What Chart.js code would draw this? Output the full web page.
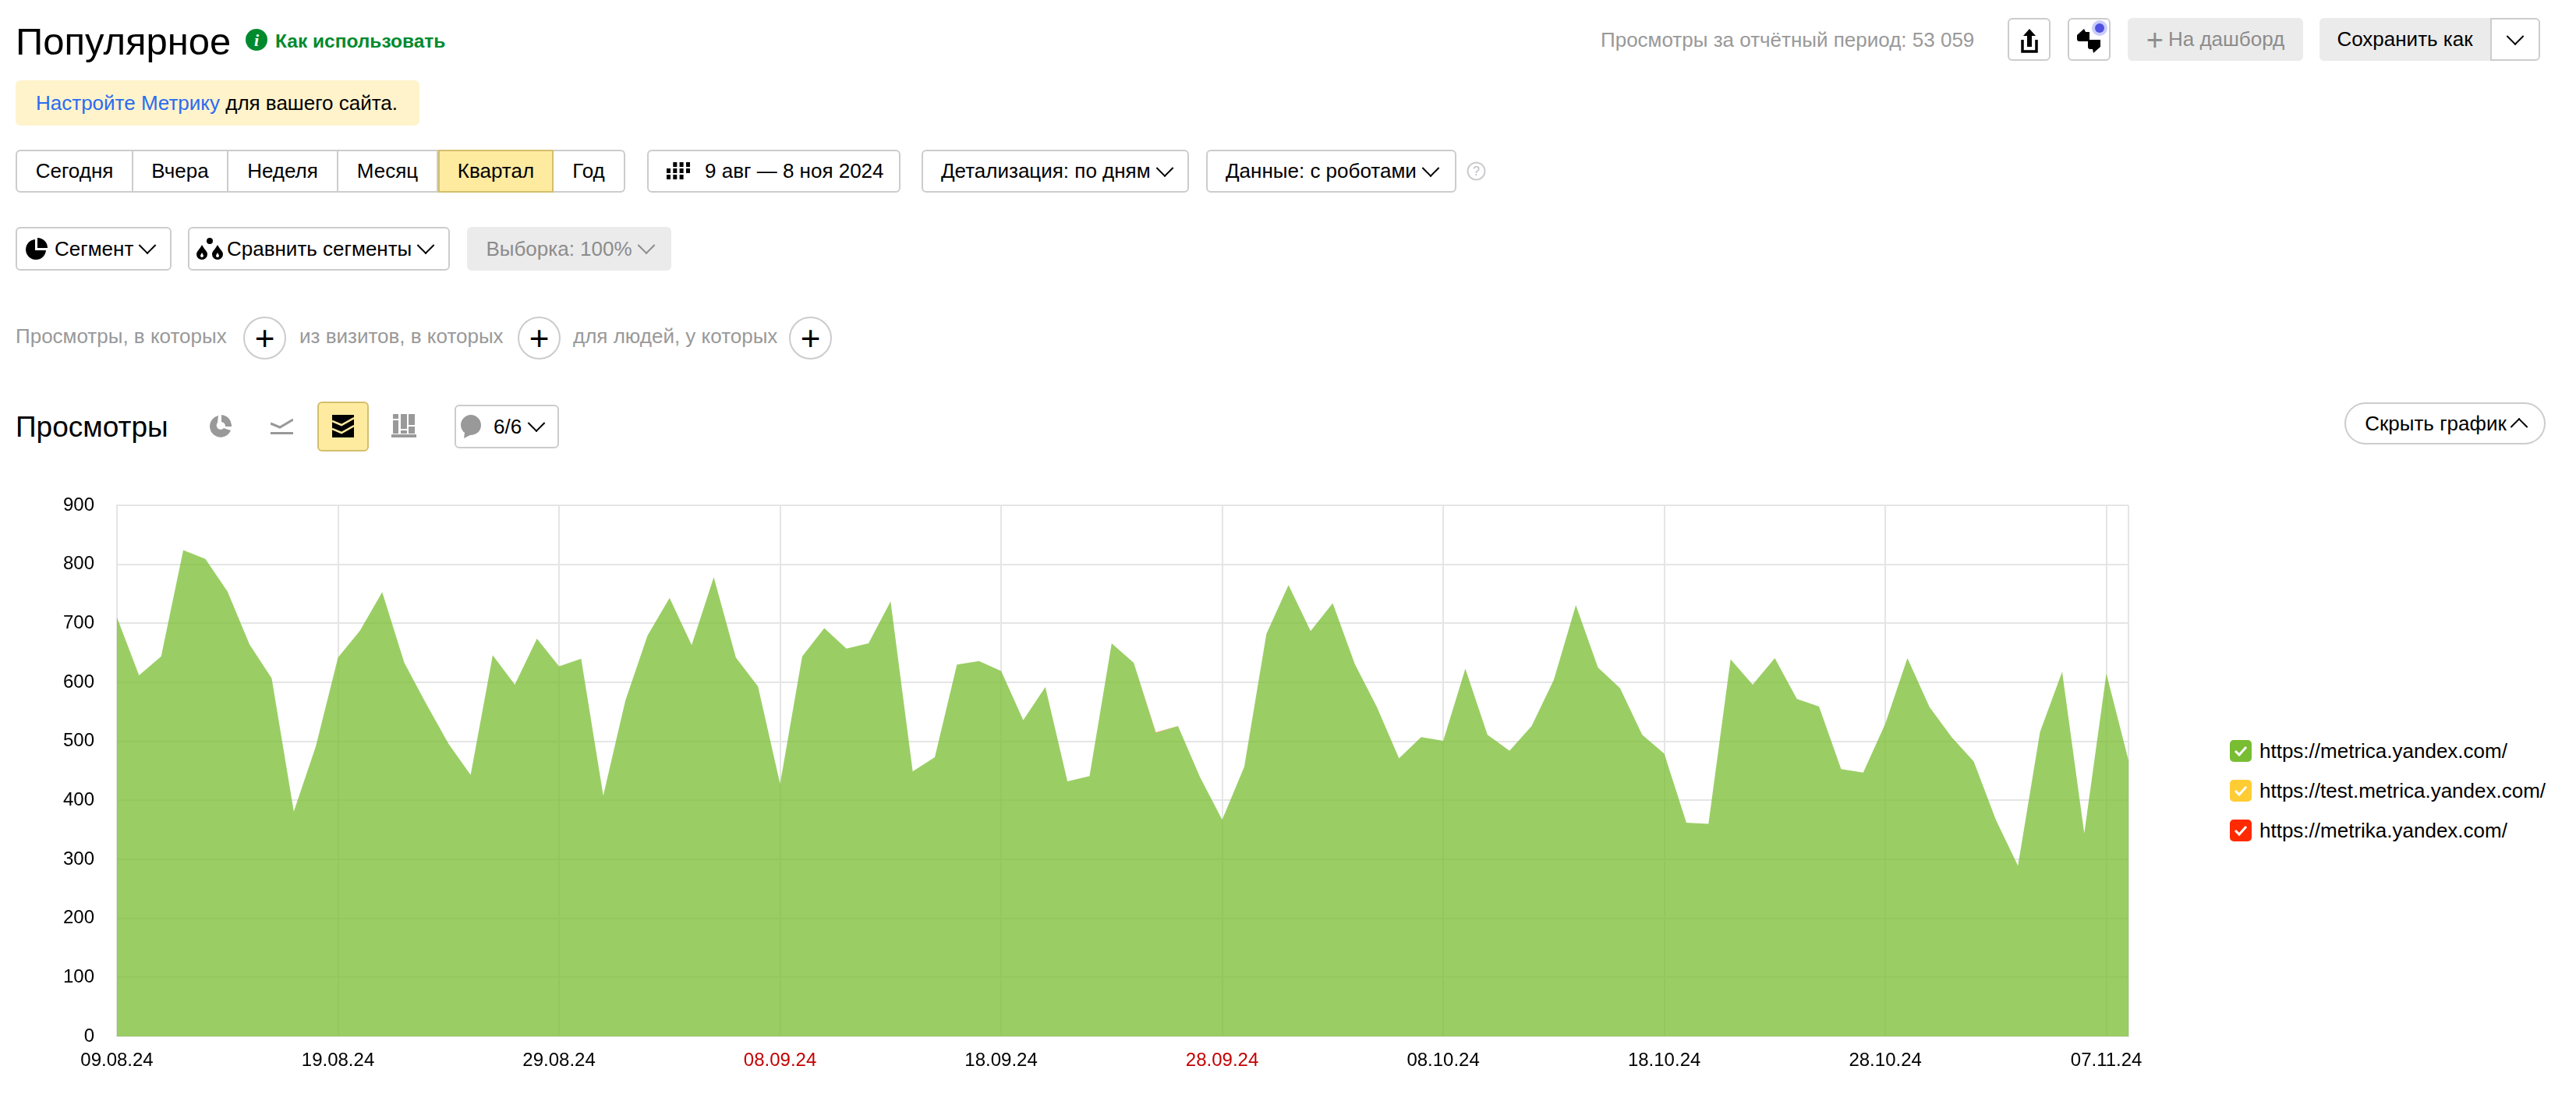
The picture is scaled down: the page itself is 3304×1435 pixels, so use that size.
<!DOCTYPE html>
<html lang="ru">
<head>
<meta charset="utf-8">
<title>Популярное</title>
<script src="https://cdn.jsdelivr.net/npm/chart.js@4"></script>
<style>
  html, body { margin: 0; padding: 0; background: #fff; }
  body { position: relative; width: 3304px; height: 1435px; overflow: hidden; font-family: "Liberation Sans", Arial, sans-serif; font-size: 26px; color: #000; }
  .t, .btn, .grey, svg.i { position: absolute; }
  .t { white-space: nowrap; line-height: 30px; }
  .btn, .grey { box-sizing: border-box; display: flex; align-items: center; justify-content: center; white-space: nowrap; border-radius: 6px; }
  .btn { border: 2px solid #ccc; background: #fff; }
  .grey { background: #ebebeb; color: #8c8c8c; }
  .seg { border-radius: 0; border-left-width: 0; }
  .on { background: #ffeba0; border-color: #d3bf6c; }
  .muted { color: #999; }
  .plus { border-radius: 50%; }
  .start { justify-content: flex-start; }
  .chev { width: 16px; height: 16px; border-right: 2px solid #000; border-bottom: 2px solid #000; transform: rotate(45deg) translate(-3px, -3px); margin-left: 12px; flex: none; box-sizing: border-box; }
  #chartBox { position: absolute; left: 0; top: 620px; }
  #legend { position: absolute; left: 2860px; top: 949px; }
  .lg { display: flex; align-items: center; height: 28px; margin-bottom: 23px; }
  .box { width: 28px; height: 28px; border-radius: 5px; margin-right: 10px; display: flex; align-items: center; justify-content: center; }
</style>
</head>
<body>

<div class="t" style="left:20px;top:24px;font-size:49px;line-height:58px">Популярное</div>
<svg class="i" style="left:315px;top:37px" width="28" height="28" viewBox="0 0 28 28"><circle cx="14" cy="14" r="14" fill="#008a2e"/><text x="14" y="22" text-anchor="middle" font-family="Liberation Serif" font-style="italic" font-weight="bold" font-size="22" fill="#fff">i</text></svg>
<div class="t" style="left:353px;top:38px;color:#008a2e;font-weight:bold;font-size:24.5px">Как использовать</div>

<div class="t" style="left:20px;top:103px;width:518px;height:58px;background:#fff3cc;border-radius:6px"></div>
<div class="t" style="left:46px;top:117px"><span style="color:#2a6bf2">Настройте Метрику</span> для вашего сайта.</div>

<div class="btn seg" style="left:20px;top:192px;width:151px;height:55px;border-left-width:2px;border-radius:6px 0 0 6px">Сегодня</div>
<div class="btn seg" style="left:171px;top:192px;width:122px;height:55px">Вчера</div>
<div class="btn seg" style="left:293px;top:192px;width:141px;height:55px">Неделя</div>
<div class="btn seg" style="left:434px;top:192px;width:128px;height:55px">Месяц</div>
<div class="btn seg on" style="left:562px;top:192px;width:148px;height:55px;border-left-width:2px">Квартал</div>
<div class="btn seg" style="left:710px;top:192px;width:92px;height:55px;border-radius:0 6px 6px 0">Год</div>

<div class="btn start" style="left:830px;top:192px;width:325px;height:55px;padding-left:72px">9 авг — 8 ноя 2024</div>
<svg class="i" style="left:855px;top:208px" width="30" height="22" viewBox="0 0 30 22" fill="#000"><rect x="8.3" y="0" width="5" height="6"/><rect x="16.6" y="0" width="5" height="6"/><rect x="25" y="0" width="5" height="6"/><rect x="0" y="8" width="5" height="6"/><rect x="8.3" y="8" width="5" height="6"/><rect x="16.6" y="8" width="5" height="6"/><rect x="25" y="8" width="5" height="6"/><rect x="0" y="16" width="5" height="6"/><rect x="8.3" y="16" width="5" height="6"/><rect x="16.6" y="16" width="5" height="6"/></svg>
<div class="btn start" style="left:1182px;top:192px;width:343px;height:55px;padding-left:23px">Детализация: по дням<span class="chev" style="margin-left:10px"></span></div>
<div class="btn start" style="left:1547px;top:192px;width:321px;height:55px;padding-left:23px">Данные: с роботами<span class="chev" style="margin-left:10px"></span></div>
<svg class="i" style="left:1881px;top:207px" width="25" height="25" viewBox="0 0 25 25"><circle cx="12.5" cy="12.5" r="11" fill="none" stroke="#ccc" stroke-width="2"/><text x="12.5" y="18" text-anchor="middle" font-size="16" fill="#bbb">?</text></svg>

<div class="btn start" style="left:20px;top:291px;width:200px;height:56px;padding-left:48px">Сегмент<span class="chev" style="margin-left:10px"></span></div>
<svg class="i" style="left:33px;top:305px" width="28" height="28" viewBox="0 0 28 28" fill="#000"><path d="M12 2A13 13 0 1 0 26 16H12Z"/><path d="M15 0A13 13 0 0 1 28 13H15Z"/></svg>
<div class="btn start" style="left:241px;top:291px;width:336px;height:56px;padding-left:48px">Сравнить сегменты<span class="chev" style="margin-left:10px"></span></div>
<svg class="i" style="left:252px;top:305px" width="34" height="28" viewBox="0 0 34 28"><path d="M7 9C10 15 14 17 14 21A7 7 0 0 1 0 21C0 17 4 15 7 9Z" fill="#000"/><path d="M7 19C8 21 9 22 9 23A2 2 0 0 1 5 23C5 22 6 21 7 19Z" fill="#fff"/><circle cx="17" cy="4" r="4" fill="#000"/><path d="M27 9C30 15 34 17 34 21A7 7 0 0 1 20 21C20 17 24 15 27 9Z" fill="#000"/><path d="M27 19C28 21 29 22 29 23A2 2 0 0 1 25 23C25 22 26 21 27 19Z" fill="#fff"/></svg>
<div class="grey" style="left:599px;top:291px;width:262px;height:56px">Выборка: 100%<span class="chev" style="border-color:#8c8c8c;margin-left:10px"></span></div>

<div class="t muted" style="left:20px;top:416px">Просмотры, в которых</div>
<div class="btn plus" style="left:312px;top:406px;width:55px;height:55px;font-size:44px;font-weight:300">+</div>
<div class="t muted" style="left:384px;top:416px">из визитов, в которых</div>
<div class="btn plus" style="left:664px;top:406px;width:55px;height:55px;font-size:44px;font-weight:300">+</div>
<div class="t muted" style="left:735px;top:416px">для людей, у которых</div>
<div class="btn plus" style="left:1012px;top:406px;width:55px;height:55px;font-size:44px;font-weight:300">+</div>

<div class="t muted" style="left:2053px;top:36px">Просмотры за отчётный период: 53 059</div>
<div class="btn" style="left:2575px;top:23px;width:55px;height:55px"></div>
<svg class="i" style="left:2592px;top:37px" width="22" height="31" viewBox="0 0 22 31"><path d="M11 0L19 9H14V23H8V9H3Z" fill="#000"/><path d="M2 14V29H20V14" fill="none" stroke="#000" stroke-width="3.5"/></svg>
<div class="btn" style="left:2652px;top:23px;width:55px;height:55px"></div>
<svg class="i" style="left:2664px;top:26px" width="40" height="42" viewBox="0 0 40 42" fill="#000"><circle cx="29" cy="10" r="10" fill="#c9ccfb"/><circle cx="29" cy="10" r="6" fill="#4f52e0"/><path d="M0 19L9 11L11 15L16 15V24C16 26 15 27 13 27H3C1 27 0 26 0 24Z"/><path d="M14 25H30V34L21 42L20 37H17C15 37 14 36 14 34Z"/></svg>
<div class="grey" style="left:2729px;top:23px;width:225px;height:55px"><span style="font-size:38px;line-height:30px;margin-right:6px">+</span>На дашборд</div>
<div class="grey" style="left:2975px;top:23px;width:219px;height:55px;color:#000;border-radius:6px 0 0 6px">Сохранить как</div>
<div class="btn" style="left:3194px;top:23px;width:64px;height:55px;border-radius:0 6px 6px 0"><span class="chev" style="margin-left:0"></span></div>

<div class="t" style="left:20px;top:525px;font-size:37px;line-height:46px">Просмотры</div>
<svg class="i" style="left:269px;top:532px" width="28" height="29" viewBox="0 0 28 29" fill="#999"><path d="M11 1A14 14 0 1 0 27 20L18 17A5 5 0 1 1 10 10Z"/><path d="M15 0A14 14 0 0 1 28 15L20 15A6 6 0 0 0 15 9Z"/></svg>
<svg class="i" style="left:347px;top:537px" width="29" height="20" viewBox="0 0 29 20"><path d="M0 6L12 11L29 1" fill="none" stroke="#999" stroke-width="3"/><rect y="17" width="29" height="3" fill="#999"/></svg>
<div class="btn on" style="left:407px;top:515px;width:66px;height:64px"></div>
<svg class="i" style="left:426px;top:532px" width="28" height="29" viewBox="0 0 28 29"><rect width="28" height="29" fill="#000"/><path d="M0 8L12 13L28 4M0 18L12 23L28 14" fill="none" stroke="#ffeba0" stroke-width="2.5"/></svg>
<svg class="i" style="left:502px;top:531px" width="32" height="30" viewBox="0 0 32 30" fill="#999"><rect x="2" y="0" width="7" height="6"/><rect x="2" y="8" width="7" height="17"/><rect x="12" y="0" width="8" height="19"/><rect x="12" y="21" width="8" height="4"/><rect x="22" y="0" width="8" height="14"/><rect x="22" y="16" width="8" height="9"/><rect x="0" y="26" width="32" height="4"/></svg>
<div class="btn start" style="left:583px;top:519px;width:134px;height:56px;padding-left:48px">6/6<span class="chev" style="margin-left:11px"></span></div>
<svg class="i" style="left:591px;top:532px" width="26" height="30" viewBox="0 0 26 30"><path d="M13 0C20 0 26 6 26 13C26 21 20 26 12 26L4 30L5 23C2 21 0 17 0 13C0 6 6 0 13 0Z" fill="#999"/></svg>
<div class="btn" style="left:3007px;top:516px;width:258px;height:54px;border-radius:27px">Скрыть график<span class="chev" style="transform:rotate(225deg) translate(-3px,-3px);margin-left:8px"></span></div>

<div id="chartBox"><canvas id="myChart" width="2800" height="780"></canvas></div>
<div id="legend"></div>

<script>
const categories = [
  "09.08.24","10.08.24","11.08.24","12.08.24","13.08.24","14.08.24","15.08.24","16.08.24","17.08.24","18.08.24",
  "19.08.24","20.08.24","21.08.24","22.08.24","23.08.24","24.08.24","25.08.24","26.08.24","27.08.24","28.08.24",
  "29.08.24","30.08.24","31.08.24","01.09.24","02.09.24","03.09.24","04.09.24","05.09.24","06.09.24","07.09.24",
  "08.09.24","09.09.24","10.09.24","11.09.24","12.09.24","13.09.24","14.09.24","15.09.24","16.09.24","17.09.24",
  "18.09.24","19.09.24","20.09.24","21.09.24","22.09.24","23.09.24","24.09.24","25.09.24","26.09.24","27.09.24",
  "28.09.24","29.09.24","30.09.24","01.10.24","02.10.24","03.10.24","04.10.24","05.10.24","06.10.24","07.10.24",
  "08.10.24","09.10.24","10.10.24","11.10.24","12.10.24","13.10.24","14.10.24","15.10.24","16.10.24","17.10.24",
  "18.10.24","19.10.24","20.10.24","21.10.24","22.10.24","23.10.24","24.10.24","25.10.24","26.10.24","27.10.24",
  "28.10.24","29.10.24","30.10.24","31.10.24","01.11.24","02.11.24","03.11.24","04.11.24","05.11.24","06.11.24",
  "07.11.24","08.11.24"
];
const tickLabels = ["09.08.24","19.08.24","29.08.24","08.09.24","18.09.24","28.09.24","08.10.24","18.10.24","28.10.24","07.11.24"];
const redLabels = ["08.09.24","28.09.24"];
const seriesNames = ["https://metrica.yandex.com/","https://test.metrica.yandex.com/","https://metrika.yandex.com/"];
const seriesColors = ["#78bd32","#ffcc33","#ff2a00"];

const metricaValues = [
  710,612,644,824,809,754,664,607,381,492,
  642,688,753,633,563,496,443,646,596,674,
  627,640,408,569,679,743,663,778,642,593,
  428,644,692,657,666,737,449,473,630,636,
  619,536,592,432,441,666,633,514,526,439,
  367,457,682,765,687,734,631,558,471,507,
  501,623,511,484,526,604,731,625,590,511,
  479,362,360,639,596,641,572,559,453,447,
  530,641,558,507,466,367,289,516,618,344,
  615,468
];
const testValues = [
  0,0,0,0,0,0,0,0,0,0,
  0,0,0,0,0,0,0,0,0,0,
  0,0,0,0,0,0,0,0,0,0,
  0,0,0,0,0,0,0,0,0,0,
  0,0,0,0,0,0,0,0,0,0,
  0,0,0,0,0,0,0,0,0,0,
  0,0,0,0,0,0,0,0,0,0,
  0,0,0,0,0,0,0,0,0,0,
  0,0,0,0,0,0,0,0,0,0,
  0,0
];
const metrikaValues = [
  0,0,0,0,0,0,0,0,0,0,
  0,0,0,0,0,0,0,0,0,0,
  0,0,0,0,0,0,0,0,0,0,
  0,0,0,0,0,0,0,0,0,0,
  0,0,0,0,0,0,0,1,0,0,
  0,0,0,0,0,0,0,0,0,0,
  0,0,0,0,0,0,0,0,0,0,
  0,0,0,0,0,0,0,0,0,0,
  0,0,0,0,0,0,0,0,0,0,
  0,0
];

const gridColor = "#e5e5e5";
const ctx = document.getElementById("myChart");

function area(i, values, fillColor) {
  return {
    label: seriesNames[i],
    data: values,
    backgroundColor: fillColor,
    fill: i == 0 ? "origin" : "-1",
    borderWidth: 0,
    pointRadius: 0,
    tension: 0
  };
}

new Chart(ctx, {
  type: "line",
  data: {
    labels: categories,
    datasets: [
      area(0, metricaValues, "rgba(120,189,50,0.75)"),
      area(1, testValues, "rgba(255,204,51,0.75)"),
      area(2, metrikaValues, "rgba(255,42,0,0.75)")
    ]
  },
  options: {
    responsive: false,
    animation: false,
    layout: { padding: { top: 28, right: 70 } },
    plugins: { legend: { display: false }, tooltip: { enabled: false } },
    scales: {
      x: {
        afterBuildTicks: (scale) => {
          // only the labelled days and the closing edge get a grid line
          scale.ticks = scale.ticks.filter((t) => tickLabels.includes(categories[t.value]) || t.value == categories.length - 1);
        },
        afterFit: (scale) => { scale.height = 71; },
        grid: { color: gridColor, lineWidth: 2, drawTicks: false },
        border: { color: gridColor, width: 2 },
        ticks: {
          autoSkip: false,
          maxRotation: 0,
          padding: 17,
          font: { family: "Liberation Sans", size: 24 },
          color: (c) => redLabels.includes(c.tick.label) ? "#c40000" : "#000",
          callback: (value) => tickLabels.includes(categories[value]) ? categories[value] : ""
        }
      },
      y: {
        stacked: true,
        min: 0,
        max: 900,
        afterFit: (scale) => {
          scale.width = 150;
          scale.paddingTop = 0; // tick padding would otherwise push the plot down
        },
        grid: { color: gridColor, lineWidth: 2, drawTicks: false },
        border: { color: gridColor, width: 2 },
        ticks: {
          stepSize: 100,
          padding: 29,
          font: { family: "Liberation Sans", size: 24 },
          color: "#000"
        }
      }
    }
  }
});

// legend on the right
const legend = document.getElementById("legend");
seriesNames.forEach((name, i) => {
  const row = document.createElement("div");
  row.className = "lg";
  row.innerHTML = '<span class="box" style="background:' + seriesColors[i] + '"><svg width="18" height="16" viewBox="0 0 18 16"><path d="M2 8L7 13L16 3" fill="none" stroke="#fff" stroke-width="3"/></svg></span>' + name;
  legend.appendChild(row);
});
</script>
</body>
</html>
